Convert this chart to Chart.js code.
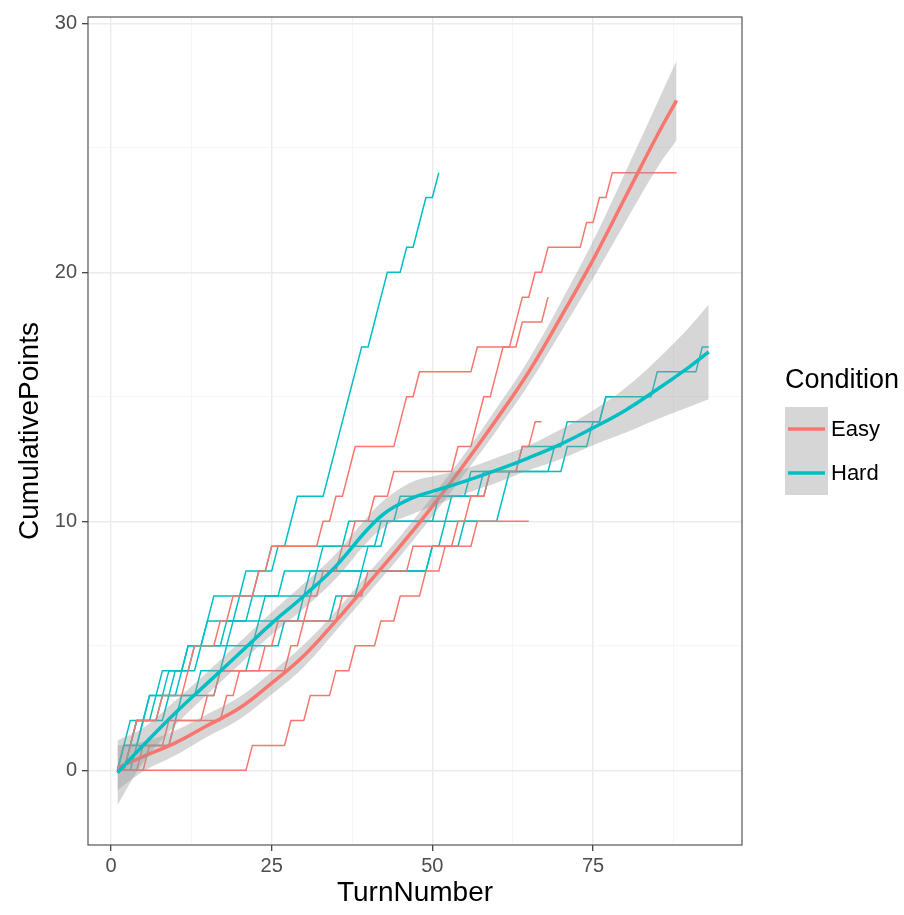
<!DOCTYPE html>
<html><head><meta charset="utf-8">
<script src="https://cdn.jsdelivr.net/npm/chart.js@4"></script>
<style>html,body{margin:0;padding:0;background:#fff}</style>
</head><body>
<canvas id="c" width="904" height="915"></canvas>
<script>
// ---------------- data ----------------
const conditions = ['Easy', 'Hard'];
const xTickValues = [0, 25, 50, 75];
const yTickValues = [0, 10, 20, 30];
const xTitle = 'TurnNumber';
const yTitle = 'CumulativePoints';
const legendTitle = 'Condition';

// Step lines: turns at which a point was gained, and the last turn played
const easy1Gains = [3,4,8,12,13,17,19,23,25,33,35,37,38,45,46,48,57,63,64,66,68,74,76,78];
const easy1End = 88;
const easy2Gains = [5,9,15,17,24,26,31,33,36,38,41,44,54,57,58,60,61,64,68];
const easy2End = 68;
const easy3Gains = [6,10,18,20,28,30,36,40,47,54,56,59,64,66];
const easy3End = 67;
const easy4Gains = [22,28,31,35,38,42,45,49,52,57];
const easy4End = 65;

const hard1Gains = [2,3,7,8,14,15,16,23,25,28,29,34,35,36,37,38,39,41,42,43,46,48,49,51];
const hard1End = 51;
const hard2Gains = [4,10,11,17,22,23,30,31,50,52,61,62,71,75,77,85,92];
const hard2End = 93;
const hard3Gains = [2,4,6,10,12,19,24,27,33,37,45,56,64,71,77];
const hard3End = 78;
const hard4Gains = [3,5,8,9,13,18,22,32,40,43,53,59,69];
const hard4End = 70;
const hard5Gains = [2,5,6,11,12,15,20,21,26,42,51,58];
const hard5End = 62;
const hard6Gains = [3,4,9,14,18,27,35,39,50,55];
const hard6End = 57;

// Smoothed trend (loess) with confidence band
const easySmoothTurns = [1,5,10,15,20,25,30,35,40,45,50,55,60,65,70,75,80,85,88];
const easySmoothFit   = [0.1,0.55,1.1,1.8,2.5,3.5,4.6,6.0,7.5,9.0,10.6,12.3,14.1,16.0,18.2,20.5,23.0,25.5,26.9];
const easySmoothLow   = [-0.8,-0.05,0.6,1.35,2.05,3.05,4.15,5.6,7.1,8.6,10.2,11.9,13.65,15.5,17.6,19.75,22.0,24.2,25.3];
const easySmoothHigh  = [1.0,1.15,1.6,2.25,2.95,3.95,5.05,6.4,7.9,9.4,11.0,12.7,14.55,16.5,18.8,21.25,24.0,26.8,28.5];

const hardSmoothTurns = [1,5,10,15,20,25,30,35,40,43,47,50,55,60,65,70,75,80,85,90,93];
const hardSmoothFit   = [-0.1,1.0,2.3,3.5,4.7,5.9,7.0,8.2,9.7,10.4,10.95,11.2,11.6,12.05,12.55,13.1,13.75,14.45,15.3,16.2,16.8];
const hardSmoothLow   = [-1.4,0.3,1.8,3.05,4.25,5.45,6.5,7.7,9.2,9.85,10.3,10.6,11.1,11.55,12.05,12.5,13.05,13.55,14.1,14.6,14.9];
const hardSmoothHigh  = [1.2,1.7,2.8,3.95,5.15,6.35,7.5,8.7,10.2,10.95,11.6,11.8,12.1,12.55,13.05,13.7,14.45,15.35,16.5,17.8,18.7];

// ---------------- styling ----------------
const EASY = '#F8766D', HARD = '#00BFC4';
const BAND = 'rgba(153,153,153,0.4)';
const FONT = '"Liberation Sans", Arial, sans-serif';

function stepPoints(gains, end) {
  const pts = [{x: 1, y: 0}];
  let v = 0;
  gains.forEach(g => { pts.push({x: g - 1, y: v}); v += 1; pts.push({x: g, y: v}); });
  pts.push({x: end, y: v});
  return pts;
}
function pairs(xs, ys) { return xs.map((x, i) => ({x, y: ys[i]})); }

const stepSets = [
  [easy1Gains, easy1End, EASY], [easy2Gains, easy2End, EASY], [easy3Gains, easy3End, EASY], [easy4Gains, easy4End, EASY],
  [hard1Gains, hard1End, HARD], [hard2Gains, hard2End, HARD], [hard3Gains, hard3End, HARD],
  [hard4Gains, hard4End, HARD], [hard5Gains, hard5End, HARD], [hard6Gains, hard6End, HARD]
].map(([g, e, c]) => ({
  data: stepPoints(g, e), borderColor: c, borderWidth: 1.5, pointRadius: 0, tension: 0, fill: false, order: 10
}));

const smoothCommon = {pointRadius: 0, tension: 0.4, cubicInterpolationMode: 'default'};
const datasets = [
  ...stepSets,
  {...smoothCommon, data: pairs(easySmoothTurns, easySmoothLow), borderWidth: 0, borderColor: 'rgba(0,0,0,0)', fill: false, order: 4},
  {...smoothCommon, data: pairs(easySmoothTurns, easySmoothHigh), borderWidth: 0, borderColor: 'rgba(0,0,0,0)', backgroundColor: BAND, fill: '-1', order: 4},
  {...smoothCommon, data: pairs(easySmoothTurns, easySmoothFit), borderColor: EASY, borderWidth: 3.5, fill: false, order: 3},
  {...smoothCommon, data: pairs(hardSmoothTurns, hardSmoothLow), borderWidth: 0, borderColor: 'rgba(0,0,0,0)', fill: false, order: 2},
  {...smoothCommon, data: pairs(hardSmoothTurns, hardSmoothHigh), borderWidth: 0, borderColor: 'rgba(0,0,0,0)', backgroundColor: BAND, fill: '-1', order: 2},
  {...smoothCommon, data: pairs(hardSmoothTurns, hardSmoothFit), borderColor: HARD, borderWidth: 3.5, fill: false, order: 1}
];

function gridOpts(majors) {
  return {
    color: c => majors.includes(c.tick.value) ? '#EBEBEB' : '#F4F4F4',
    lineWidth: c => majors.includes(c.tick.value) ? 1.4 : 0.8,
    tickColor: c => majors.includes(c.tick.value) ? '#333333' : 'rgba(0,0,0,0)',
    tickLength: 6,
    tickWidth: 1.2,
    drawTicks: true
  };
}

const panelBorder = {
  id: 'panelBorder',
  afterDatasetsDraw(chart) {
    const {ctx, chartArea: a} = chart;
    ctx.save();
    ctx.strokeStyle = '#555555';
    ctx.lineWidth = 1.2;
    ctx.strokeRect(a.left, a.top, a.right - a.left, a.bottom - a.top);
    ctx.restore();
  }
};

const ggLegend = {
  id: 'ggLegend',
  afterDraw(chart) {
    const ctx = chart.ctx;
    const x0 = 785;
    ctx.save();
    ctx.fillStyle = '#000';
    ctx.textBaseline = 'middle';
    ctx.textAlign = 'left';
    ctx.font = '27px ' + FONT;
    ctx.fillText(legendTitle, x0, 381);
    const colors = [EASY, HARD];
    conditions.forEach((name, i) => {
      const top = 407 + i * 44;
      ctx.fillStyle = '#ffffff';
      ctx.fillRect(x0, top, 43, 44);
      ctx.fillStyle = BAND;
      ctx.fillRect(x0, top, 43, 44);
      ctx.strokeStyle = colors[i];
      ctx.lineWidth = 3.5;
      ctx.beginPath();
      ctx.moveTo(x0 + 3, top + 22);
      ctx.lineTo(x0 + 40, top + 22);
      ctx.stroke();
      ctx.fillStyle = '#000';
      ctx.font = '22px ' + FONT;
      ctx.fillText(name, x0 + 46, top + 23);
    });
    ctx.restore();
  }
};

new Chart(document.getElementById('c'), {
  type: 'line',
  data: {datasets},
  options: {
    responsive: false,
    animation: false,
    devicePixelRatio: 1,
    layout: {padding: {left: 0, right: 162, top: 13, bottom: 0}},
    plugins: {legend: {display: false}, tooltip: {enabled: false}},
    scales: {
      x: {
        type: 'linear', min: -3.58, max: 98.18,
        afterBuildTicks: s => { s.ticks = [0,12.5,25,37.5,50,62.5,75,87.5].map(v => ({value: v})); },
        afterFit: s => { s.height = 70; },
        ticks: {autoSkip: false, maxRotation: 0, padding: 3, color: '#4D4D4D', font: {family: FONT, size: 20},
                callback: v => xTickValues.includes(v) ? String(v) : ''},
        grid: gridOpts(xTickValues),
        border: {display: false},
        title: {display: true, text: xTitle, color: '#000', font: {family: FONT, size: 28}, padding: {top: 0, bottom: 5}}
      },
      y: {
        type: 'linear', min: -3.0, max: 30.25,
        afterBuildTicks: s => { s.ticks = [0,5,10,15,20,25,30].map(v => ({value: v})); },
        afterFit: s => { s.width = 88; },
        ticks: {autoSkip: false, padding: 5, color: '#4D4D4D', font: {family: FONT, size: 20},
                callback: v => yTickValues.includes(v) ? String(v) : ''},
        grid: gridOpts(yTickValues),
        border: {display: false},
        title: {display: true, text: yTitle, color: '#000', font: {family: FONT, size: 28}, padding: {top: 13, bottom: 0}}
      }
    }
  },
  plugins: [panelBorder, ggLegend]
});
</script>
</body></html>
